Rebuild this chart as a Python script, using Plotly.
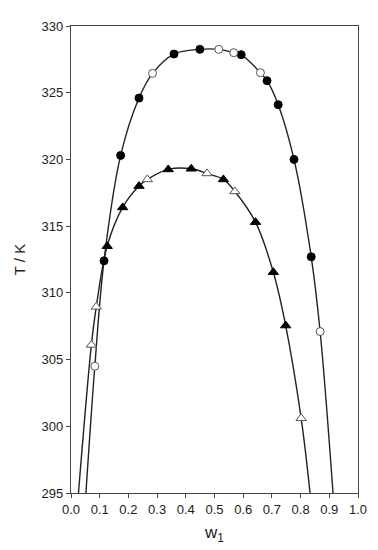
import plotly.graph_objects as go

# outer binodal (circles)
c_fill_x = [0.115, 0.173, 0.237, 0.359, 0.449, 0.593, 0.683, 0.722, 0.777, 0.837]
c_fill_y = [312.4, 320.3, 324.6, 327.9, 328.25, 327.85, 325.9, 324.1, 320.0, 312.7]
c_open_x = [0.083, 0.284, 0.515, 0.567, 0.660, 0.868]
c_open_y = [304.5, 326.45, 328.25, 328.0, 326.5, 307.1]
c_ends_x = [0.052, 0.913]
c_ends_y = [295, 295]

# inner binodal (triangles)
t_fill_x = [0.126, 0.180, 0.237, 0.339, 0.419, 0.531, 0.643, 0.705, 0.748]
t_fill_y = [313.5, 316.4, 318.0, 319.25, 319.3, 318.5, 315.3, 311.55, 307.55]
t_open_x = [0.071, 0.088, 0.266, 0.474, 0.571, 0.802]
t_open_y = [306.1, 308.95, 318.5, 318.95, 317.6, 300.6]
t_ends_x = [0.026, 0.833]
t_ends_y = [295, 295]


def curve(xs_list, ys_list):
    pts = sorted(zip(sum(xs_list, []), sum(ys_list, [])))
    return [p[0] for p in pts], [p[1] for p in pts]


fig = go.Figure()
line_col = "#222222"

for xs, ys in [curve([c_fill_x, c_open_x, c_ends_x], [c_fill_y, c_open_y, c_ends_y]),
               curve([t_fill_x, t_open_x, t_ends_x], [t_fill_y, t_open_y, t_ends_y])]:
    fig.add_trace(go.Scatter(x=xs, y=ys, mode="lines", line_shape="spline",
                             line=dict(color=line_col, width=1.4), hoverinfo="skip"))

fig.add_trace(go.Scatter(x=c_fill_x, y=c_fill_y, mode="markers",
                         marker=dict(symbol="circle", size=8, color="black",
                                     line=dict(color="black", width=1))))
fig.add_trace(go.Scatter(x=c_open_x, y=c_open_y, mode="markers",
                         marker=dict(symbol="circle", size=8, color="white",
                                     line=dict(color="#555555", width=1))))
fig.add_trace(go.Scatter(x=t_fill_x, y=t_fill_y, mode="markers",
                         marker=dict(symbol="triangle-up", size=9, color="black",
                                     line=dict(color="black", width=1))))
fig.add_trace(go.Scatter(x=t_open_x, y=t_open_y, mode="markers",
                         marker=dict(symbol="triangle-up", size=9, color="white",
                                     line=dict(color="#555555", width=1))))

axis_common = dict(showgrid=False, zeroline=False, showline=True, linecolor="#444444",
                   linewidth=1.2, mirror=True, ticks="outside", ticklen=4,
                   tickcolor="#444444", tickfont=dict(size=13, color="#222222"))

# page body has an 8px margin, so offsets are compensated here
fig.update_layout(
    width=370, height=542,
    margin=dict(l=53, r=15, t=11, b=57),
    plot_bgcolor="white", paper_bgcolor="white",
    showlegend=False,
    font=dict(family="Arial, Liberation Sans, sans-serif", color="#222222"),
    xaxis=dict(range=[0, 1], dtick=0.1, tickformat=".1f",
               title=dict(text="w<sub>1</sub>", font=dict(size=17), standoff=10),
               **axis_common),
    yaxis=dict(range=[295, 330], dtick=5,
               title=dict(text="T / K", font=dict(size=15), standoff=12),
               **axis_common),
)

fig.write_html("out.html")
